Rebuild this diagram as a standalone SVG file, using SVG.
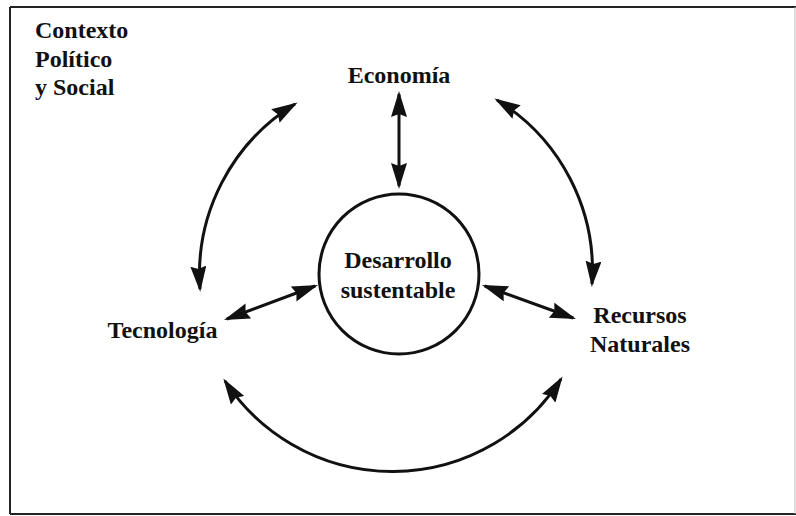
<svg xmlns="http://www.w3.org/2000/svg" width="796" height="516" viewBox="0 0 796 516">
  <style>
    .lbl { font-family: "Liberation Serif", "Times New Roman", serif; font-weight: bold; font-size: 24px; fill: #111; }
    .c { text-anchor: middle; }
    .conn { fill: none; stroke: #111; stroke-width: 3; }
    .frame { stroke: #222; stroke-width: 2; fill: none; }
  </style>
  <defs>
    <marker id="ah" viewBox="0 0 26 16" refX="23" refY="8" markerWidth="26" markerHeight="16" markerUnits="userSpaceOnUse" orient="auto-start-reverse">
      <path d="M0,0 L26,8 L0,16 L3,8 z" fill="#111"/>
    </marker>
  </defs>
  <rect x="0" y="0" width="796" height="516" fill="#fff"/>
  <g id="frame">
    <line class="frame" x1="10" y1="7" x2="796" y2="7"/>
    <line class="frame" x1="10" y1="7" x2="10" y2="514"/>
    <line class="frame" x1="10" y1="514" x2="796" y2="514"/>
    <line x1="795" y1="7" x2="795" y2="514" stroke="#bbb" stroke-width="1"/>
  </g>
  <g id="contexto">
    <text class="lbl" x="35" y="38">Contexto</text>
    <text class="lbl" x="35" y="67">Político</text>
    <text class="lbl" x="35" y="95">y Social</text>
  </g>
  <g id="economia">
    <text class="lbl c" x="399" y="83">Economía</text>
  </g>
  <g id="desarrollo">
    <circle cx="399" cy="274" r="80" fill="none" stroke="#111" stroke-width="3"/>
    <text class="lbl c" x="398" y="268">Desarrollo</text>
    <text class="lbl c" x="398" y="298">sustentable</text>
  </g>
  <g id="tecnologia">
    <text class="lbl c" x="162.5" y="338">Tecnología</text>
  </g>
  <g id="recursos">
    <text class="lbl c" x="640" y="323">Recursos</text>
    <text class="lbl c" x="640" y="352">Naturales</text>
  </g>
  <g id="connectors">
    <path class="conn" d="M399,94 L399,186" marker-start="url(#ah)" marker-end="url(#ah)"/>
    <path class="conn" d="M226.8,319 L315.2,286" marker-start="url(#ah)" marker-end="url(#ah)"/>
    <path class="conn" d="M484.8,286 L573.2,318" marker-start="url(#ah)" marker-end="url(#ah)"/>
    <path class="conn" d="M295,104 A200,200 0 0 0 200,289" marker-start="url(#ah)" marker-end="url(#ah)"/>
    <path class="conn" d="M497,100 A200,200 0 0 1 592,284" marker-start="url(#ah)" marker-end="url(#ah)"/>
    <path class="conn" d="M225,381 A200,200 0 0 0 561,379" marker-start="url(#ah)" marker-end="url(#ah)"/>
  </g>
</svg>
